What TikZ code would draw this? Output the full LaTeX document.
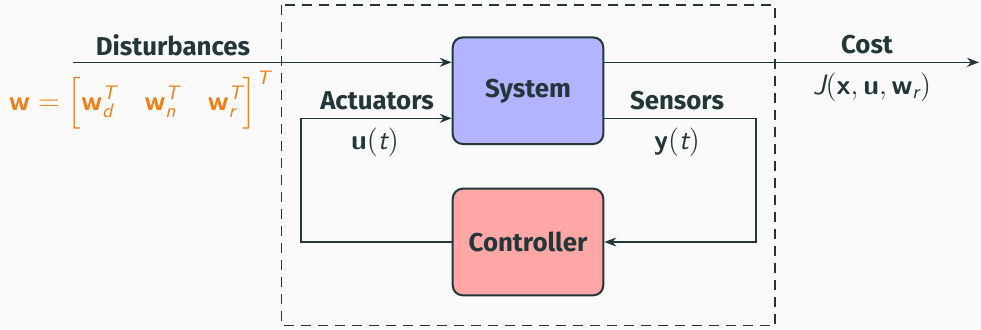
\documentclass[tikz,border=0pt]{standalone}
\usepackage{amsmath}
\usepackage{fontspec}
\setmainfont{Fira Sans}
\usetikzlibrary{arrows.meta}
\definecolor{ink}{HTML}{23373B}
\definecolor{accent}{HTML}{EB811B}
\definecolor{sysfill}{HTML}{B3B3FF}
\definecolor{ctrlfill}{HTML}{FFA6A6}
\definecolor{bg}{HTML}{FAFAFA}
% bold and italic sans letters for the signal symbols
\newcommand{\bv}[1]{\textsf{\bfseries #1}}
\newcommand{\sv}[1]{\textsf{\itshape #1}}
\tikzset{
  txtfont/.style={font=\fontsize{12.9}{15}\selectfont\bfseries},
  mathfont/.style={font=\fontsize{14}{16}\selectfont},
  block/.style={draw=ink, line width=1pt, rounded corners=5pt,
    minimum width=75.3pt, minimum height=53.3pt, txtfont, text=ink},
  wire/.style={draw=ink, line width=0.8pt},
  flow/.style={wire, -{Stealth[length=6pt,width=4.5pt]}},
  lbl/.style={text=ink, txtfont, inner sep=0pt},
  sig/.style={text=ink, mathfont, inner sep=0pt},
}
\begin{document}
\begin{tikzpicture}[x=0.5pt, y=-0.5pt]
\fill[bg] (0,0) rectangle (981,329);
\useasboundingbox (0,0) rectangle (981,329);

% plant boundary
\draw[ink, line width=0.8pt, dash pattern=on 5pt off 3.5pt] (281.5,5) rectangle (775,325.5);

% blocks
\node[block, fill=sysfill] (sys) at (528,90.7) {System};
\node[block, fill=ctrlfill] (ctrl) at (528,242) {Controller};

% connector end points
\coordinate (din) at (73,62.3);
\coordinate (dout) at (979,62.3);
\coordinate (actL) at (300.7,118.3);
\coordinate (senR) at (756,118.3);

% signals
\draw[flow] (din) -- (din -| sys.west);
\draw[flow] (sys.east |- dout) -- (dout);
\draw[flow] (ctrl.west) -| (actL) -- (actL -| sys.west);
\draw[flow] (senR -| sys.east) -- (senR) |- (ctrl.east);

% labels
\node[lbl] (dist) at (173,45) {Disturbances};
\node[lbl] (cost) at (867,45) {Cost};
\node[sig] (costfn) at (872,87) {$\sv{J}(\bv{x}, \bv{u}, \bv{w}_{\sv{r}})$};
\node[lbl] (act) at (377,101) {Actuators};
\node[sig] (uvar) at (375,142) {$\bv{u}(\sv{t})$};
\node[lbl] (sen) at (677,101) {Sensors};
\node[sig] (yvar) at (677,142) {$\bv{y}(\sv{t})$};
\node[sig, text=accent] (wvec) at (140,100)
  {$\bv{w} = \Bigl[\bv{w}_{\sv{d}}^{\sv{T}} \quad \bv{w}_{\sv{n}}^{\sv{T}} \quad \bv{w}_{\sv{r}}^{\sv{T}}\Bigr]^{\sv{T}}$};
\end{tikzpicture}
\end{document}
